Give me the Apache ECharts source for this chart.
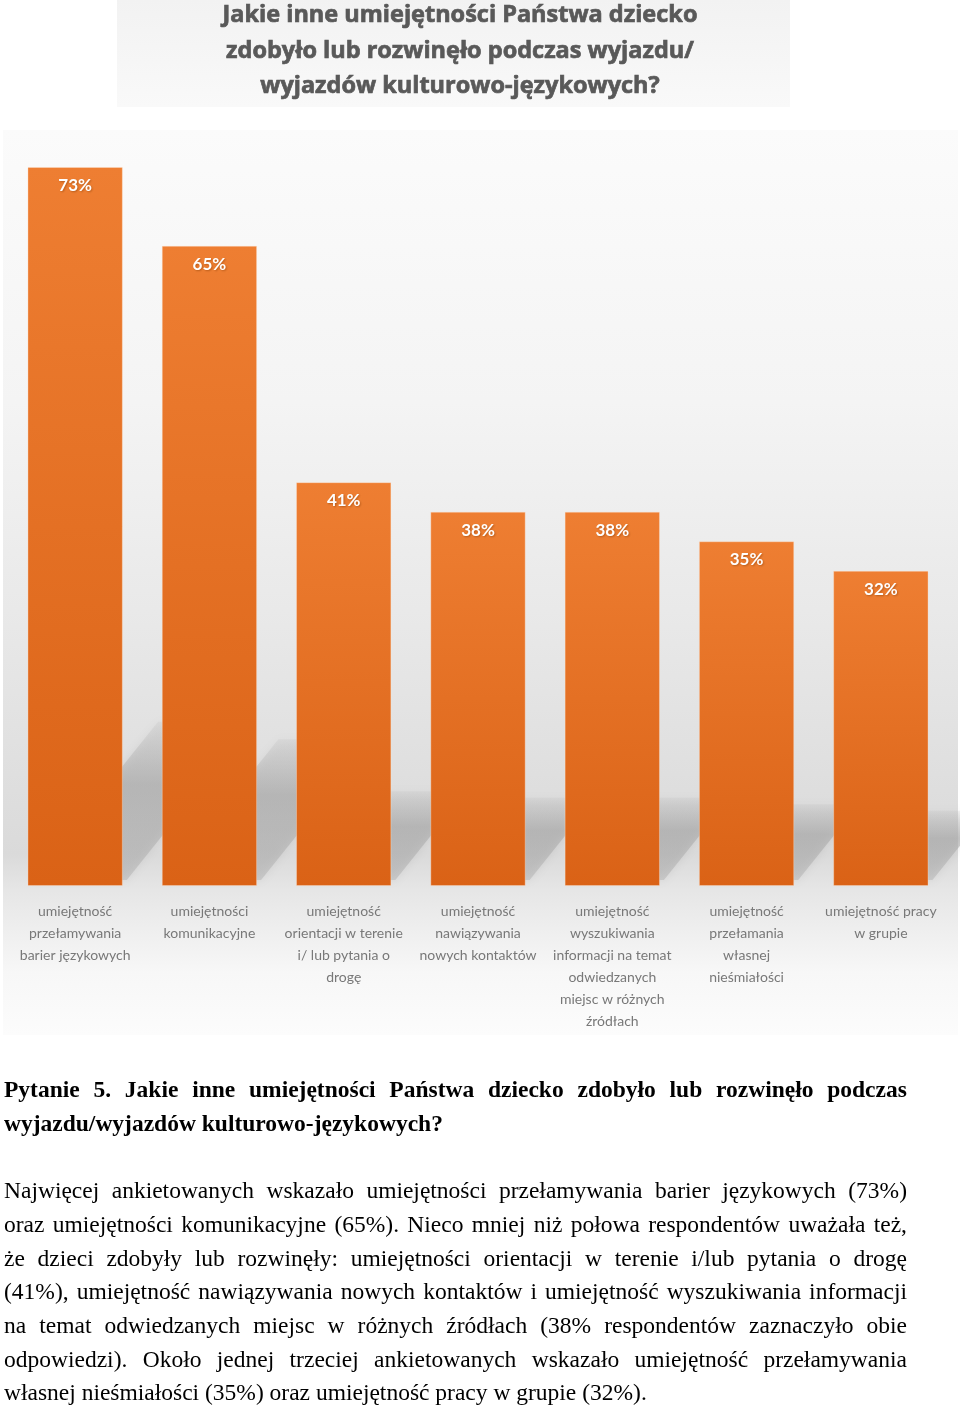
<!DOCTYPE html>
<html>
<head>
<meta charset="utf-8">
<script src="https://cdn.jsdelivr.net/npm/echarts@6/dist/echarts.min.js"></script>
<style>
  html, body { margin: 0; padding: 0; background: #ffffff; }
  #wrap { position: relative; width: 960px; height: 1408px; overflow: hidden; }
  #chart { position: absolute; left: 0; top: 0; width: 960px; height: 1408px; }
  #text { position: absolute; left: 4px; top: 1073px; width: 903px;
          font-family: "Liberation Serif", "DejaVu Serif", serif; font-size: 23.5px;
          line-height: 33.7px; color: #000; }
  #text .j { white-space: nowrap; display: flex; justify-content: space-between; }
  #text .l { text-align: left; white-space: nowrap; }
  #text .b { font-weight: bold; font-size: 23.5px; }
  #text .gap { height: 33.7px; }
</style>
</head>
<body>
<div id="wrap">
  <div id="chart"></div>
  <div id="text"></div>
</div>
<script>
// ---- data ----
const titleLines = [
  'Jakie inne umiejętności Państwa dziecko',
  'zdobyło lub rozwinęło podczas wyjazdu/',
  'wyjazdów kulturowo-językowych?'
];
const categories = [
  'umiejętność\nprzełamywania\nbarier językowych',
  'umiejętności\nkomunikacyjne',
  'umiejętność\norientacji w terenie\ni/ lub pytania o\ndrogę',
  'umiejętność\nnawiązywania\nnowych kontaktów',
  'umiejętność\nwyszukiwania\ninformacji na temat\nodwiedzanych\nmiejsc w różnych\nźródłach',
  'umiejętność\nprzełamania\nwłasnej\nnieśmiałości',
  'umiejętność pracy\nw grupie'
];
const values = [73, 65, 41, 38, 38, 35, 32];
const questionLines = [
  'Pytanie 5. Jakie inne umiejętności Państwa dziecko zdobyło lub rozwinęło podczas',
  'wyjazdu/wyjazdów kulturowo-językowych?'
];
const paragraphLines = [
  'Najwięcej ankietowanych wskazało umiejętności przełamywania barier językowych (73%)',
  'oraz umiejętności komunikacyjne (65%). Nieco mniej niż połowa respondentów uważała też,',
  'że dzieci zdobyły lub rozwinęły: umiejętności orientacji w terenie i/lub pytania o drogę',
  '(41%), umiejętność nawiązywania nowych kontaktów i umiejętność wyszukiwania informacji',
  'na temat odwiedzanych miejsc w różnych źródłach (38% respondentów zaznaczyło obie',
  'odpowiedzi). Około jednej trzeciej ankietowanych wskazało umiejętność przełamywania',
  'własnej nieśmiałości (35%) oraz umiejętność pracy w grupie (32%).'
];

// ---- text block below chart ----
(function () {
  const box = document.getElementById('text');
  function addLine(txt, justify, bold) {
    const d = document.createElement('div');
    d.className = (justify ? 'j' : 'l') + (bold ? ' b' : '');
    if (justify) {
      txt.split(' ').forEach(w => { const s = document.createElement('span'); s.textContent = w; d.appendChild(s); });
    } else {
      d.textContent = txt;
    }
    box.appendChild(d);
  }
  questionLines.forEach((t, i) => addLine(t, i < questionLines.length - 1, true));
  const g = document.createElement('div'); g.className = 'gap'; box.appendChild(g);
  paragraphLines.forEach((t, i) => addLine(t, i < paragraphLines.length - 1, false));
})();

// ---- chart ----
const chart = echarts.init(document.getElementById('chart'), null, { renderer: 'canvas' });
const BAR_RATIO = 0.71;

const option = {
  backgroundColor: '#ffffff',
  animation: false,
  title: {
    text: titleLines.join('\n'),
    left: 455,
    top: -7,
    textAlign: 'center',
    textStyle: {
      fontFamily: '"Open Sans", Lato, sans-serif',
      fontWeight: 'bold',
      fontSize: 23.5,
      lineHeight: 35.5,
      color: '#595959',
      textBorderColor: '#595959',
      textBorderWidth: 0.7
    }
  },
  graphic: [
    {
      type: 'rect', z: -10, silent: true,
      shape: { x: 117, y: 0, width: 673, height: 107 },
      style: { fill: new echarts.graphic.LinearGradient(0, 0, 0, 1, [
        { offset: 0, color: '#f2f2f2' }, { offset: 1, color: '#f9f9f9' }
      ]) }
    },
    {
      type: 'rect', z: -10, silent: true,
      shape: { x: 3, y: 130, width: 955, height: 905 },
      style: { fill: new echarts.graphic.LinearGradient(0, 0, 0, 1, [
        { offset: 0, color: '#fbfbfb' },
        { offset: 0.3, color: '#f4f4f4' },
        { offset: 0.55, color: '#e8e8e8' },
        { offset: 0.8, color: '#dadada' },
        { offset: 0.84, color: '#e6e6e6' },
        { offset: 0.93, color: '#f7f7f7' },
        { offset: 1, color: '#fcfcfc' }
      ]) }
    }
  ],
  grid: { left: 8, right: 12, top: 167, bottom: 522, containLabel: false },
  xAxis: {
    type: 'category',
    data: categories,
    axisLine: { show: false },
    axisTick: { show: false },
    axisLabel: {
      interval: 0,
      margin: 14,
      color: '#787878',
      fontFamily: 'Lato, "Open Sans", sans-serif',
      fontSize: 14,
      lineHeight: 22
    }
  },
  yAxis: {
    type: 'value', min: 0, max: 73, show: false,
    splitLine: { show: false }
  },
  series: [
    {
      type: 'custom',
      z: 1,
      silent: true,
      clip: false,
      data: values.map((v, i) => [i, v]),
      renderItem: function (params, api) {
        const base = api.coord([api.value(0), 0]);
        const top = api.coord([api.value(0), api.value(1)]);
        const w = api.size([1, 0])[0] * BAR_RATIO;
        const h = base[1] - top[1];
        const sh = h * 0.22;
        const dx = sh * 0.8;
        const off = 4;
        const lift = 6;
        const xL = base[0] - w / 2 + off, xR = base[0] + w / 2 + off;
        const yb = base[1] - lift;
        return {
          type: 'polygon',
          shape: { points: [[xL, yb], [xR, yb], [xR + dx, yb - sh], [xL + dx, yb - sh]] },
          style: {
            fill: new echarts.graphic.LinearGradient(0, 1, 0, 0, [
              { offset: 0, color: 'rgba(160,160,160,0.35)' },
              { offset: 0.6, color: 'rgba(165,165,165,0.55)' },
              { offset: 1, color: 'rgba(175,175,175,0.15)' }
            ]),
            shadowBlur: 10, shadowColor: 'rgba(160,160,160,0.6)'
          }
        };
      }
    },
    {
      type: 'bar',
      z: 2,
      data: values,
      barWidth: (BAR_RATIO * 100) + '%',
      itemStyle: {
        color: new echarts.graphic.LinearGradient(0, 0, 0, 1, [
          { offset: 0, color: '#ee7e32' },
          { offset: 1, color: '#da6216' }
        ]),
        borderColor: 'rgba(255,230,210,0.35)',
        borderWidth: 1
      },
      label: {
        show: true,
        position: 'insideTop',
        distance: 10,
        formatter: '{c}%',
        color: '#ffffff',
        fontFamily: 'Lato, "Open Sans", sans-serif',
        fontWeight: 'bold',
        fontSize: 17,
        textShadowColor: 'rgba(120,50,0,0.45)',
        textShadowBlur: 2,
        textShadowOffsetX: 1,
        textShadowOffsetY: 1
      }
    }
  ]
};
chart.setOption(option);
</script>
</body>
</html>
